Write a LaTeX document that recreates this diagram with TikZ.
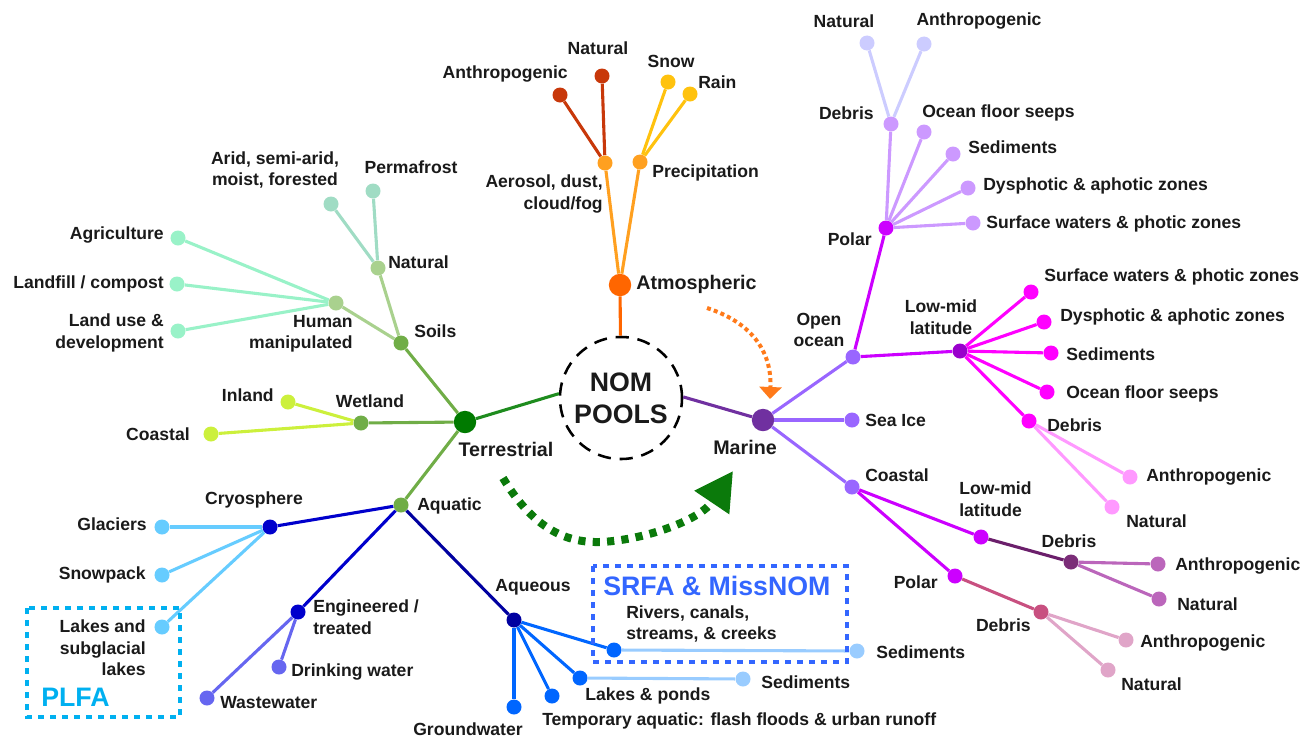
\documentclass[tikz,border=0pt]{standalone}
\usepackage{fontspec}
\setmainfont{Liberation Sans}
\usetikzlibrary{arrows.meta}

\definecolor{ink}{HTML}{1A1A1A}
\definecolor{cAtm}{HTML}{FF6600}
\definecolor{cAtmA}{HTML}{FFA020}
\definecolor{cAtmB}{HTML}{C8380A}
\definecolor{cAtmC}{HTML}{FFC20E}
\definecolor{cTer}{HTML}{007A00}
\definecolor{cTerL}{HTML}{1E8C1E}
\definecolor{cTerA}{HTML}{70AD47}
\definecolor{cSoil}{HTML}{A9D18E}
\definecolor{cMint}{HTML}{A0DCC4}
\definecolor{cAqua}{HTML}{99F2C8}
\definecolor{cLime}{HTML}{CCF03C}
\definecolor{cBlu}{HTML}{0000CC}
\definecolor{cNavy}{HTML}{0000A0}
\definecolor{cSky}{HTML}{66CCFF}
\definecolor{cPeri}{HTML}{6666F0}
\definecolor{cAzure}{HTML}{0066FF}
\definecolor{cIce}{HTML}{99CCFF}
\definecolor{cCyan}{HTML}{00B0F0}
\definecolor{cSrfa}{HTML}{3366FF}
\definecolor{cMar}{HTML}{7030A0}
\definecolor{cMarA}{HTML}{9966FF}
\definecolor{cMag}{HTML}{CC00FF}
\definecolor{cMagD}{HTML}{9900CC}
\definecolor{cLav}{HTML}{CC99FF}
\definecolor{cLavL}{HTML}{CCCCFF}
\definecolor{cPink}{HTML}{FF00FF}
\definecolor{cPinkL}{HTML}{FF99FF}
\definecolor{cPlum}{HTML}{6B1F6B}
\definecolor{cPlumD}{HTML}{7B2D78}
\definecolor{cPlumL}{HTML}{BB66BB}
\definecolor{cRose}{HTML}{C85080}
\definecolor{cRoseL}{HTML}{E0A5C8}
\definecolor{cFlowG}{HTML}{0B7A0B}
\definecolor{cFlowO}{HTML}{FF7A1A}

\newcommand{\lblfont}{\fontsize{12.5}{15.3}\selectfont\bfseries}
\newcommand{\poolfont}{\fontsize{14}{16}\selectfont\bfseries}
\newcommand{\centerfont}{\fontsize{19}{22.7}\selectfont\bfseries}
\newcommand{\boxfont}{\fontsize{19}{21}\selectfont\bfseries}

\begin{document}
\begin{tikzpicture}[
    x=0.025cm, y=-0.025cm,
    dot/.style={circle,fill=#1,inner sep=0pt,minimum size=3.75mm},
    pool/.style={circle,fill=#1,inner sep=0pt,minimum size=5.6mm},
    branch/.style={draw=#1,line width=2.2pt},
    lbl/.style={font=\lblfont,text=ink,inner sep=0pt},
    poollbl/.style={font=\poolfont,text=ink,inner sep=0pt},
    boxlbl/.style={font=\boxfont,text=#1,inner sep=0pt},
    dotbox/.style={draw=#1,line width=0.12cm,dash pattern=on 0.15cm off 0.15cm},
    hub/.style={circle,draw=black,line width=1.8pt,dash pattern=on 0.33cm off 0.22cm,
                minimum size=3.05cm,inner sep=0pt,align=center,font=\centerfont,text=ink}
]
\useasboundingbox (0,0) rectangle (1304,737);

\node[hub] (nom) at (621,398) {NOM\\POOLS};
\node[pool=cAtm] (atm) at (620,285) {};
\node[pool=cTer] (ter) at (465,422) {};
\node[pool=cMar] (mar) at (763,420) {};

\node[dot=cAtmA] (aer)  at (605,163) {};
\node[dot=cAtmA] (pre)  at (640,162) {};
\node[dot=cAtmB] (aerA) at (560,95)  {};
\node[dot=cAtmB] (aerN) at (602,76)  {};
\node[dot=cAtmC] (preS) at (668,82)  {};
\node[dot=cAtmC] (preR) at (690,94)  {};

\node[dot=cMarA]  (ope)    at (853,357)  {};
\node[dot=cMarA]  (ice)    at (852,420)  {};
\node[dot=cMarA]  (coa)    at (852,487)  {};
\node[dot=cMag]   (opeP)   at (886,228)  {};
\node[dot=cMagD]  (opeL)   at (960,351)  {};
\node[dot=cLav]   (opePD)  at (891,124)  {};
\node[dot=cLav]   (opePO)  at (924,132)  {};
\node[dot=cLav]   (opePS)  at (953,154)  {};
\node[dot=cLav]   (opePY)  at (968,188)  {};
\node[dot=cLav]   (opePW)  at (973,223)  {};
\node[dot=cLavL]  (opePDN) at (867,43)   {};
\node[dot=cLavL]  (opePDA) at (924,44)   {};
\node[dot=cPink]  (opeLW)  at (1031,292) {};
\node[dot=cPink]  (opeLY)  at (1044,322) {};
\node[dot=cPink]  (opeLS)  at (1051,353) {};
\node[dot=cPink]  (opeLO)  at (1047,392) {};
\node[dot=cPink]  (opeLD)  at (1029,421) {};
\node[dot=cPinkL] (opeLDA) at (1130,477) {};
\node[dot=cPinkL] (opeLDN) at (1112,507) {};
\node[dot=cMag]   (coaL)   at (981,537)  {};
\node[dot=cMag]   (coaP)   at (955,576)  {};
\node[dot=cPlumD] (coaLD)  at (1071,562) {};
\node[dot=cPlumL] (coaLDA) at (1158,564) {};
\node[dot=cPlumL] (coaLDN) at (1159,599) {};
\node[dot=cRose]  (coaPD)  at (1041,612) {};
\node[dot=cRoseL] (coaPDA) at (1126,640) {};
\node[dot=cRoseL] (coaPDN) at (1108,670) {};

\node[dot=cTerA]  (soi)    at (401,343)  {};
\node[dot=cTerA]  (wet)    at (361,423)  {};
\node[dot=cTerA]  (aqu)    at (401,505)  {};
\node[dot=cSoil]  (soiN)   at (378,268)  {};
\node[dot=cSoil]  (soiH)   at (336,303)  {};
\node[dot=cMint]  (soiNA)  at (331,204)  {};
\node[dot=cMint]  (soiNP)  at (373,191)  {};
\node[dot=cAqua]  (soiHA)  at (178,238)  {};
\node[dot=cAqua]  (soiHL)  at (177,284)  {};
\node[dot=cAqua]  (soiHU)  at (178,331)  {};
\node[dot=cLime]  (wetI)   at (288,402)  {};
\node[dot=cLime]  (wetC)   at (211,434)  {};
\node[dot=cBlu]   (aquC)   at (270,527)  {};
\node[dot=cBlu]   (aquE)   at (298,612)  {};
\node[dot=cNavy]  (aquQ)   at (514,620)  {};
\node[dot=cSky]   (aquCG)  at (162,527)  {};
\node[dot=cSky]   (aquCS)  at (162,575)  {};
\node[dot=cSky]   (aquCL)  at (162,627)  {};
\node[dot=cPeri]  (aquED)  at (279,667)  {};
\node[dot=cPeri]  (aquEW)  at (207,698)  {};
\node[dot=cAzure] (aquQR)  at (614,650)  {};
\node[dot=cAzure] (aquQL)  at (580,678)  {};
\node[dot=cAzure] (aquQT)  at (552,696)  {};
\node[dot=cAzure] (aquQG)  at (514,707)  {};
\node[dot=cIce]   (aquQRS) at (857,651)  {};
\node[dot=cIce]   (aquQLS) at (743,679)  {};

\draw[branch=cAtm]  (atm) -- (nom);
\draw[branch=cTerL] (ter) -- (nom.176);
\draw[branch=cMar]  (nom.1) -- (mar);

\draw[branch=cAtmA] (atm) -- (aer);
\draw[branch=cAtmA] (atm) -- (pre);
\draw[branch=cAtmB] (aer) -- (aerA);
\draw[branch=cAtmB] (aer) -- (aerN);
\draw[branch=cAtmC] (pre) -- (preS);
\draw[branch=cAtmC] (pre) -- (preR);

\draw[branch=cMarA]  (mar) -- (ope);
\draw[branch=cMarA]  (mar) -- (ice);
\draw[branch=cMarA]  (mar) -- (coa);
\draw[branch=cMag]   (ope) -- (opeP);
\draw[branch=cMag]   (ope) -- (opeL);
\draw[branch=cLav]   (opeP) -- (opePD);
\draw[branch=cLav]   (opeP) -- (opePO);
\draw[branch=cLav]   (opeP) -- (opePS);
\draw[branch=cLav]   (opeP) -- (opePY);
\draw[branch=cLav]   (opeP) -- (opePW);
\draw[branch=cLavL]  (opePD) -- (opePDN);
\draw[branch=cLavL]  (opePD) -- (opePDA);
\draw[branch=cPink]  (opeL) -- (opeLW);
\draw[branch=cPink]  (opeL) -- (opeLY);
\draw[branch=cPink]  (opeL) -- (opeLS);
\draw[branch=cPink]  (opeL) -- (opeLO);
\draw[branch=cPink]  (opeL) -- (opeLD);
\draw[branch=cPinkL] (opeLD) -- (opeLDA);
\draw[branch=cPinkL] (opeLD) -- (opeLDN);
\draw[branch=cMag]   (coa) -- (coaL);
\draw[branch=cMag]   (coa) -- (coaP);
\draw[branch=cPlum]  (coaL) -- (coaLD);
\draw[branch=cPlumL] (coaLD) -- (coaLDA);
\draw[branch=cPlumL] (coaLD) -- (coaLDN);
\draw[branch=cRose]  (coaP) -- (coaPD);
\draw[branch=cRoseL] (coaPD) -- (coaPDA);
\draw[branch=cRoseL] (coaPD) -- (coaPDN);

\draw[branch=cTerA]  (ter) -- (soi);
\draw[branch=cTerA]  (ter) -- (wet);
\draw[branch=cTerA]  (ter) -- (aqu);
\draw[branch=cSoil]  (soi) -- (soiN);
\draw[branch=cSoil]  (soi) -- (soiH);
\draw[branch=cMint]  (soiN) -- (soiNA);
\draw[branch=cMint]  (soiN) -- (soiNP);
\draw[branch=cAqua]  (soiH) -- (soiHA);
\draw[branch=cAqua]  (soiH) -- (soiHL);
\draw[branch=cAqua]  (soiH) -- (soiHU);
\draw[branch=cLime]  (wet) -- (wetI);
\draw[branch=cLime]  (wet) -- (wetC);
\draw[branch=cBlu]   (aqu) -- (aquC);
\draw[branch=cBlu]   (aqu) -- (aquE);
\draw[branch=cNavy]  (aqu) -- (aquQ);
\draw[branch=cSky]   (aquC) -- (aquCG);
\draw[branch=cSky]   (aquC) -- (aquCS);
\draw[branch=cSky]   (aquC) -- (aquCL);
\draw[branch=cPeri]  (aquE) -- (aquED);
\draw[branch=cPeri]  (aquE) -- (aquEW);
\draw[branch=cAzure] (aquQ) -- (aquQR);
\draw[branch=cAzure] (aquQ) -- (aquQL);
\draw[branch=cAzure] (aquQ) -- (aquQT);
\draw[branch=cAzure] (aquQ) -- (aquQG);
\draw[branch=cIce]   (aquQR) -- (aquQRS);
\draw[branch=cIce]   (aquQL) -- (aquQLS);

\coordinate (gA) at (503,478);
\coordinate (gM) at (613,541);
\coordinate (gB) at (733,471);
\draw[cFlowG,line width=0.2cm,dash pattern=on 0.18cm off 0.18cm,-{Triangle[length=0.95cm,width=1.0cm]}]
    (gA) .. controls (540,540) and (580,545) .. (gM) .. controls (650,537) and (700,520) .. (gB);
\coordinate (oA) at (707,308);
\coordinate (oB) at (770,399);
\draw[cFlowO,line width=0.1cm,dash pattern=on 0.1cm off 0.08cm,-{Triangle[length=0.3cm,width=0.55cm]}]
    (oA) .. controls (750,322) and (772,350) .. (oB);

\draw[dotbox=cCyan] (27,608) rectangle (180,717);
\draw[dotbox=cSrfa] (593,566) rectangle (847,662);

\node[poollbl, anchor=west] (tAtm) at (636,284) {Atmospheric};
\node[poollbl] (tTer) at (506,449) {Terrestrial};
\node[poollbl] (tMar) at (745,447) {Marine};

\node[lbl, anchor=east] (tAerA) at (568,74) {Anthropogenic};
\node[lbl] (tAerN) at (598,48) {Natural};
\node[lbl] (tPreS) at (671,61) {Snow};
\node[lbl, anchor=west] (tPreR) at (698,82) {Rain};
\node[lbl, anchor=west] (tPre) at (652,173) {Precipitation};
\node[lbl, anchor=east, align=right] (tAer) at (603,194) {Aerosol, dust,\\cloud/fog};

\node[lbl] (tOpePDN) at (844,21) {Natural};
\node[lbl] (tOpePDA) at (979,21) {Anthropogenic};
\node[lbl, anchor=east] (tOpePD) at (874,113) {Debris};
\node[lbl, anchor=west] (tOpePO) at (922,113) {Ocean floor seeps};
\node[lbl, anchor=west] (tOpePS) at (968,147) {Sediments};
\node[lbl, anchor=west] (tOpePY) at (983,186) {Dysphotic \& aphotic zones};
\node[lbl, anchor=west] (tOpePW) at (986,224) {Surface waters \& photic zones};
\node[lbl, anchor=east] (tOpeP) at (872,239) {Polar};
\node[lbl, align=center] (tOpe) at (819,330) {Open\\ocean};
\node[lbl, align=center] (tOpeL) at (941,317) {Low-mid\\latitude};
\node[lbl, anchor=west] (tOpeLW) at (1044,277) {Surface waters \& photic zones};
\node[lbl, anchor=west] (tOpeLY) at (1060,317) {Dysphotic \& aphotic zones};
\node[lbl, anchor=west] (tOpeLS) at (1066,354) {Sediments};
\node[lbl, anchor=west] (tOpeLO) at (1066,394) {Ocean floor seeps};
\node[lbl, anchor=west] (tOpeLD) at (1047,425) {Debris};
\node[lbl, anchor=west] (tOpeLDA) at (1146,477) {Anthropogenic};
\node[lbl, anchor=west] (tOpeLDN) at (1126,521) {Natural};
\node[lbl, anchor=west] (tIce) at (865,420) {Sea Ice};
\node[lbl, anchor=west] (tCoa) at (865,475) {Coastal};
\node[lbl, anchor=west, align=left] (tCoaL) at (959,499) {Low-mid\\latitude};
\node[lbl] (tCoaLD) at (1069,541) {Debris};
\node[lbl, anchor=west] (tCoaLDA) at (1175,566) {Anthropogenic};
\node[lbl, anchor=west] (tCoaLDN) at (1177,604) {Natural};
\node[lbl, anchor=east] (tCoaP) at (938,582) {Polar};
\node[lbl, anchor=east] (tCoaPD) at (1031,625) {Debris};
\node[lbl, anchor=west] (tCoaPDA) at (1140,643) {Anthropogenic};
\node[lbl, anchor=west] (tCoaPDN) at (1121,684) {Natural};

\node[lbl, align=center] (tSoiNA) at (275,170) {Arid, semi-arid,\\moist, forested};
\node[lbl] (tSoiNP) at (411,167) {Permafrost};
\node[lbl, anchor=west] (tSoiN) at (388,262) {Natural};
\node[lbl, anchor=east, align=right] (tSoiH) at (353,334) {Human\\manipulated};
\node[lbl, anchor=west] (tSoi) at (414,331) {Soils};
\node[lbl, anchor=east] (tSoiHA) at (164,235) {Agriculture};
\node[lbl, anchor=east] (tSoiHL) at (164,284) {Landfill / compost};
\node[lbl, anchor=east, align=right] (tSoiHU) at (164,333) {Land use \&\\development};
\node[lbl] (tWet) at (370,401) {Wetland};
\node[lbl, anchor=east] (tWetI) at (274,395) {Inland};
\node[lbl, anchor=east] (tWetC) at (190,434) {Coastal};
\node[lbl, anchor=west] (tAqu) at (417,506) {Aquatic};
\node[lbl] (tAquC) at (254,500) {Cryosphere};
\node[lbl, anchor=east] (tAquCG) at (147,524) {Glaciers};
\node[lbl, anchor=east] (tAquCS) at (146,575) {Snowpack};
\node[lbl, anchor=east, align=right] (tAquCL) at (146,648) {Lakes and\\subglacial\\lakes};
\node[boxlbl=cCyan, anchor=west] (tPLFA) at (41,697) {PLFA};
\node[lbl, anchor=west, align=left] (tAquE) at (313,617) {Engineered /\\treated};
\node[lbl, anchor=west] (tAquED) at (291,672) {Drinking water};
\node[lbl, anchor=west] (tAquEW) at (220,703) {Wastewater};
\node[lbl] (tAquQ) at (533,587) {Aqueous};
\node[boxlbl=cSrfa, anchor=west] (tSRFA) at (603,586) {SRFA \& MissNOM};
\node[lbl, anchor=west, align=left] (tAquQR) at (626,624) {Rivers, canals,\\streams, \& creeks};
\node[lbl, anchor=west] (tAquQRS) at (876,652) {Sediments};
\node[lbl, anchor=west] (tAquQLS) at (761,682) {Sediments};
\node[lbl, anchor=west] (tAquQL) at (585,696) {Lakes \& ponds};
\node[lbl, anchor=west] (tAquQT) at (542,721) {Temporary aquatic: flash floods \& urban runoff};
\node[lbl] (tAquQG) at (468,729) {Groundwater};
\end{tikzpicture}
\end{document}
